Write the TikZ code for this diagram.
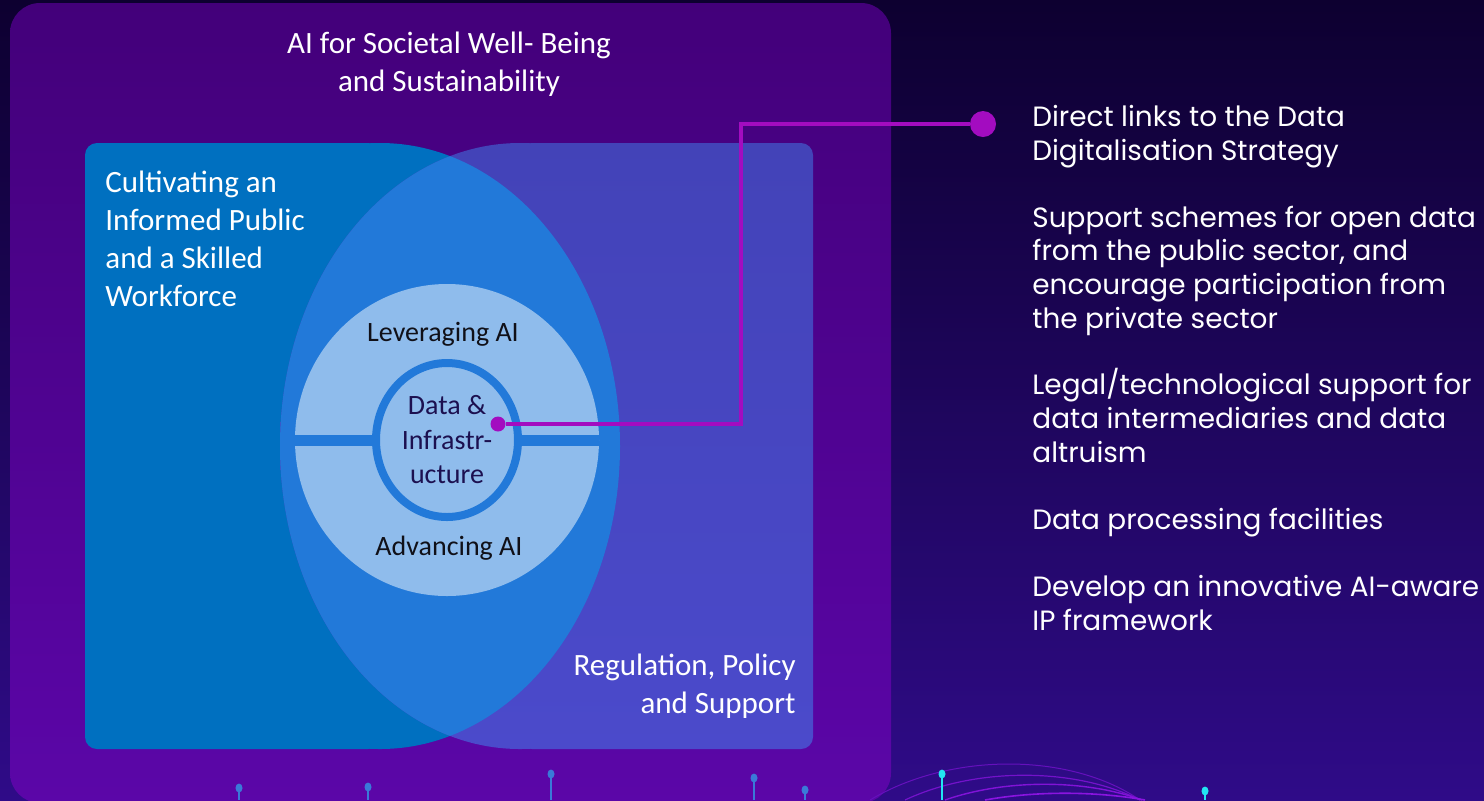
\documentclass[tikz,border=0pt]{standalone}
\usepackage{fontspec}
\setmainfont{Carlito}
\newfontfamily\listfont{Poppins}

\definecolor{bgtop}{HTML}{0D0030}
\definecolor{bgbot}{HTML}{2F0B88}
\definecolor{frametop}{HTML}{43007A}
\definecolor{framebot}{HTML}{5B06A8}
\definecolor{publicblue}{HTML}{0070C0}
\definecolor{regtop}{HTML}{4343B8}
\definecolor{regbot}{HTML}{4B4ACB}
\definecolor{lensblue}{HTML}{2279D9}
\definecolor{coreblue}{HTML}{8FBCEC}
\definecolor{linkpurple}{HTML}{A30CC0}
\definecolor{inkdark}{HTML}{101018}
\definecolor{inknavy}{HTML}{1C1050}
\definecolor{pinblue}{HTML}{3A7AD8}
\definecolor{pincyan}{HTML}{22E6F2}
\definecolor{wavepurple}{HTML}{8A14E0}

\begin{document}
\begin{tikzpicture}[x=0.5pt, y=-0.5pt,
    pillar/.style={text=white, inner sep=0pt, font=\fontsize{15.5}{19}\selectfont},
    ring/.style={inner sep=0pt, font=\fontsize{14}{17.25}\selectfont, align=center},
    point/.style={text=white, inner sep=0pt, anchor=base west, align=left,
      font=\listfont\fontsize{13.95}{16.8}\selectfont},
    hub/.style={circle, fill=linkpurple, inner sep=0pt},
    link/.style={linkpurple, line width=2pt}]
      \useasboundingbox (0,0) rectangle (1484,800);
      \clip (0,0) rectangle (1484,800);

      \shade[top color=bgtop, bottom color=bgbot] (0,0) rectangle (1484,800);
      \shade[top color=frametop, bottom color=framebot, rounded corners=15pt] (10,3) rectangle (891,803);

      \fill[publicblue, rounded corners=6pt] (380,143) -- (85,143) -- (85,749) -- (380,749) -- cycle;
      \fill[publicblue] (380,446) ellipse [x radius=240, y radius=303];
      \shade[top color=regtop, bottom color=regbot, rounded corners=6pt] (520,143) -- (813,143) -- (813,749) -- (520,749) -- cycle;
      \shade[top color=regtop, bottom color=regbot] (520,446) ellipse [x radius=240, y radius=303];
      \begin{scope}
        \clip (380,446) ellipse [x radius=240, y radius=303];
        \fill[lensblue] (520,446) ellipse [x radius=240, y radius=303];
      \end{scope}

      \fill[coreblue] (447,440) ellipse [x radius=152, y radius=156];
      \begin{scope}
        \clip (447,440) ellipse [x radius=152, y radius=156];
        \fill[lensblue] (280,435) rectangle (620,446);
      \end{scope}
      \draw[lensblue, line width=4pt, fill=coreblue] (447,440) ellipse [x radius=71, y radius=77];

      \node[pillar, align=center] (goal) at (449,64) {AI for Societal Well- Being\\and Sustainability};
      \node[pillar, align=left] (public) at (105,239) [right] {Cultivating an\\Informed Public\\and a Skilled\\Workforce};
      \node[pillar, align=right] (policy) at (796,686) [left] {Regulation, Policy\\and Support};
      \node[ring, text=inkdark] (leverage) at (443,334) {Leveraging AI};
      \node[ring, text=inknavy] (data) at (447,440) {Data \&\\Infrastr-\\ucture};
      \node[ring, text=inkdark] (advance) at (449,548) {Advancing AI};

      \node[point] (p1) at (1032,160) {Direct links to the Data\\Digitalisation Strategy};
      \node[point] (p2) at (1032,328) {Support schemes for open data\\from the public sector, and\\encourage participation from\\the private sector};
      \node[point] (p3) at (1032,462) {Legal/technological support for\\data intermediaries and data\\altruism};
      \node[point] (p4) at (1032,529) {Data processing facilities};
      \node[point] (p5) at (1032,630) {Develop an innovative AI-aware\\IP framework};

      \node[hub, minimum size=7.5pt] (dot) at (498,424) {};
      \node[hub, minimum size=13pt] (tip) at (983,124) {};
      \coordinate (elbow) at (741,124);
      \draw[link] (dot) -- (dot -| elbow) -- (elbow) -- (tip);

      \draw[wavepurple!60!bgbot, line width=0.5pt] (870,800) .. controls (950,752) and (1070,752) .. (1140,800);
      \draw[wavepurple!75!bgbot, line width=0.6pt] (905,800) .. controls (975,767) and (1075,767) .. (1140,800);
      \draw[wavepurple!90!bgbot, line width=0.7pt] (945,800) .. controls (1005,779) and (1085,779) .. (1142,800);
      \draw[wavepurple, line width=0.8pt] (985,800) .. controls (1035,791) and (1095,791) .. (1145,800);

      \foreach \px/\py/\pc in {239/788/pinblue, 368/787/pinblue, 551/774/pinblue,
                               754/778/pinblue, 805/790/pinblue, 942/774/pincyan, 1205/791/pincyan} {
        \draw[\pc, line width=0.7pt] (\px,\py) -- (\px,800);
        \fill[\pc] (\px,\py) ellipse [x radius=3.5, y radius=4.5];
      }
    \end{tikzpicture}
\end{document}
